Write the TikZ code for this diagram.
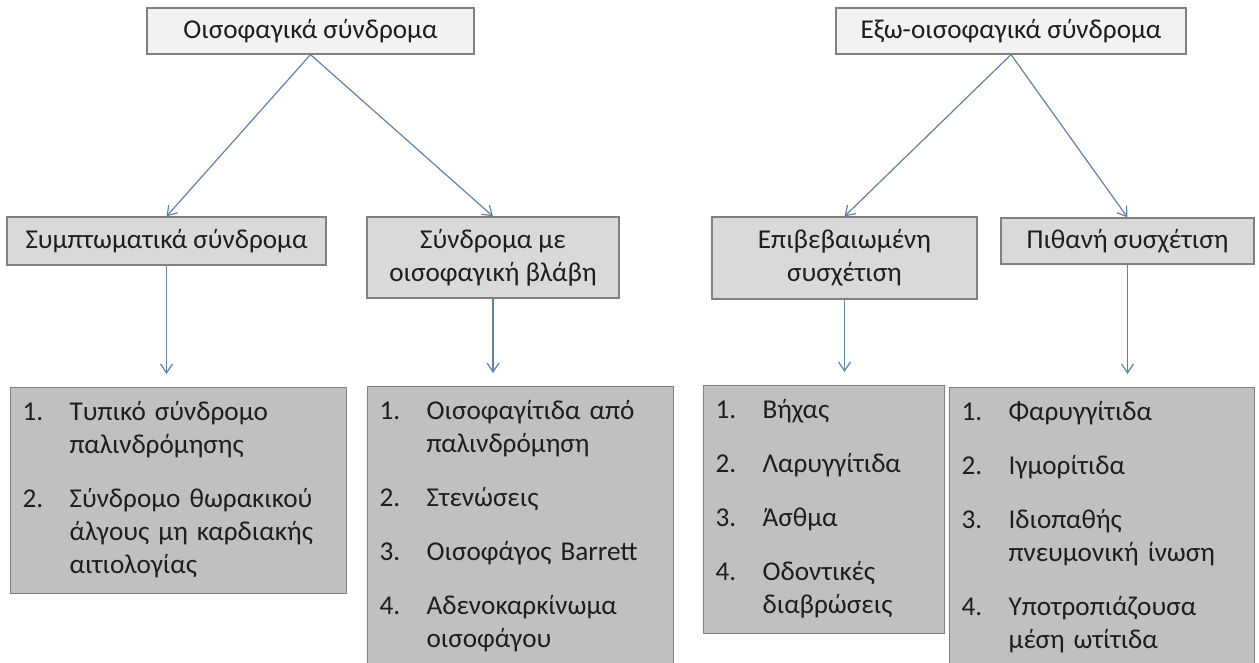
\documentclass[tikz,border=0pt]{standalone}
\usepackage{fontspec}
\setmainfont{Carlito}
\usepackage{tikz}
\usetikzlibrary{arrows.meta}
\definecolor{toplevel}{HTML}{F2F2F2}
\definecolor{midlevel}{HTML}{D9D9D9}
\definecolor{lowlevel}{HTML}{C0C0C0}
\definecolor{boxline}{HTML}{808080}
\definecolor{linkblue}{HTML}{5F83A8}
\definecolor{ink}{HTML}{1E1E1E}
\newcommand{\entry}[2]{\noindent\hangindent=23.5pt\hangafter=1\makebox[23.5pt][l]{\strut#1}#2\strut\par}

\begin{document}
\begin{tikzpicture}[x=0.5pt,y=-0.5pt,
  font=\fontsize{13.6}{16.5}\selectfont, text=ink,
  box/.style={draw=boxline, line width=0.6pt, inner sep=0pt, align=center},
  headbox/.style={box, fill=toplevel, minimum height=23pt},
  groupbox/.style={box, fill=midlevel},
  listbox/.style={draw=boxline, line width=0.6pt, fill=lowlevel, anchor=north west,
    inner xsep=6pt, inner ysep=5pt,
    font=\fontsize{13.6}{16.5}\selectfont\setlength{\parskip}{10.5pt}},
  link/.style={-{Straight Barb[length=4.5pt,width=6pt]}, draw=linkblue, line width=0.6pt}]
  \useasboundingbox (0,0) rectangle (1259,663);
  \clip (0,0) rectangle (1259,663);
  \node[headbox, minimum width=163.5pt] (oes) at (310.5,31) {Οισοφαγικά σύνδρομα};
  \node[headbox, minimum width=175pt] (extra) at (1011,31) {Εξω-οισοφαγικά σύνδρομα};
  \node[groupbox, minimum width=159.5pt, minimum height=24pt] (symp) at (166.5,241) {Συμπτωματικά σύνδρομα};
  \node[groupbox, minimum width=126pt, minimum height=40.5pt] (lesion) at (493,257.5) {Σύνδρομα με\\οισοφαγική βλάβη};
  \node[groupbox, minimum width=132.5pt, minimum height=41pt] (proven) at (844.5,258) {Επιβεβαιωμένη\\συσχέτιση};
  \node[groupbox, minimum width=126.5pt, minimum height=23pt] (likely) at (1127.5,241) {Πιθανή συσχέτιση};
  \node[listbox, text width=156pt] (symplist) at (10,387)
    {\entry{1.}{Τυπικό σύνδρομο\newline παλινδρόμησης}
     \entry{2.}{Σύνδρομο θωρακικού\newline άλγους μη καρδιακής\newline αιτιολογίας}};
  \node[listbox, text width=141pt] (lesionlist) at (367,386)
    {\entry{1.}{Οισοφαγίτιδα από\newline παλινδρόμηση}
     \entry{2.}{Στενώσεις}
     \entry{3.}{Οισοφάγος Barrett}
     \entry{4.}{Αδενοκαρκίνωμα\newline οισοφάγου}};
  \node[listbox, text width=108.5pt] (provenlist) at (703,385)
    {\entry{1.}{Βήχας}
     \entry{2.}{Λαρυγγίτιδα}
     \entry{3.}{Άσθμα}
     \entry{4.}{Οδοντικές\newline διαβρώσεις}};
  \node[listbox, text width=140.5pt] (likelylist) at (949,387)
    {\entry{1.}{Φαρυγγίτιδα}
     \entry{2.}{Ιγμορίτιδα}
     \entry{3.}{Ιδιοπαθής\newline πνευμονική ίνωση}
     \entry{4.}{Υποτροπιάζουσα\newline μέση ωτίτιδα}};
  \draw[link] (oes.south) -- (symp.north);
  \draw[link] (oes.south) -- (lesion.north);
  \draw[link] (extra.south) -- (proven.north);
  \draw[link] (extra.south) -- (likely.north);
  \draw[link, shorten >=6.5pt] (symp.south) -- (symp.south |- symplist.north);
  \draw[link, shorten >=6.5pt] (lesion.south) -- (lesion.south |- lesionlist.north);
  \draw[link, shorten >=6.5pt] (proven.south) -- (proven.south |- provenlist.north);
  \draw[link, shorten >=6.5pt] (likely.south) -- (likely.south |- likelylist.north);
\end{tikzpicture}
\end{document}
